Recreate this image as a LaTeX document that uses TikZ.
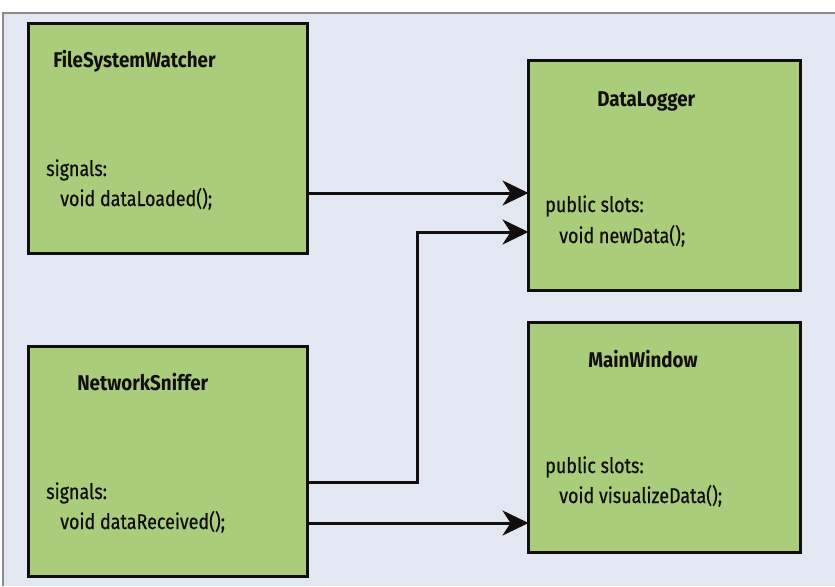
\documentclass[tikz,border=0pt]{standalone}
\usepackage{fontspec}
\setmainfont{Fira Sans}[FakeStretch=0.84, FakeBold=0.6]
\newfontfamily\ttlfont{Fira Sans}[FakeStretch=0.88]
\usetikzlibrary{arrows.meta}
\definecolor{bgc}{HTML}{E3E7F1}
\definecolor{boxc}{HTML}{AACD7C}
\definecolor{ink}{HTML}{120E0E}
\tikzset{
  cls/.style={draw=ink, fill=boxc, line width=2.25pt, minimum width=#1, minimum height=172.5pt, inner sep=0, outer sep=0, rectangle},
  ttl/.style={anchor=base west, inner sep=0, font=\ttlfont\fontsize{16}{18}\selectfont\bfseries, text=ink},
  txt/.style={anchor=base west, inner sep=0, font=\fontsize{16}{18}\selectfont, text=ink},
  arr/.style={draw=ink, line width=2.25pt, -{Stealth[length=19.5pt, width=18.75pt, inset=6pt]}}
}
\begin{document}
\begin{tikzpicture}[x=0.75pt, y=-0.75pt]
\useasboundingbox (0,0) rectangle (835,586);
\fill[bgc] (3,12) rectangle (835,586);
\draw[gray!90, line width=1.5pt] (3,586) -- (3,12.5) -- (835,12.5);
% boxes
\node[cls=209.25pt] (fsw) at (168,138.5) {};
\node[cls=209.25pt] (ns) at (168,461.5) {};
\node[cls=204pt] (dl) at (664.5,175.5) {};
\node[cls=204pt] (mw) at (664.5,437.5) {};
% texts
\node[ttl] (fswt) at (53,67) {FileSystemWatcher};
\node[txt] (fsws) at (46,176) {signals:};
\node[txt] (fswv) at (60,206) {void dataLoaded();};
\node[ttl] (nst) at (77,390) {NetworkSniffer};
\node[txt] (nss) at (46,499) {signals:};
\node[txt] (nsv) at (60,529) {void dataReceived();};
\node[ttl] (dlt) at (597,106) {DataLogger};
\node[txt] (dls) at (545,212) {public slots:};
\node[txt] (dlv) at (559,243) {void newData();};
\node[ttl] (mwt) at (588,367) {MainWindow};
\node[txt] (mws) at (545,473) {public slots:};
\node[txt] (mwv) at (559,503) {void visualizeData();};
% connectors
\coordinate (bend1) at (417,482);
\coordinate (bend2) at (417,232);
\draw[arr] (fsw.east |- 0,193) -- (dl.west |- 0,193);
\draw[arr] (ns.east |- bend1) -- (bend1) -- (bend2) -- (dl.west |- bend2);
\draw[arr] (ns.east |- 0,523) -- (mw.west |- 0,523);
\end{tikzpicture}
\end{document}
